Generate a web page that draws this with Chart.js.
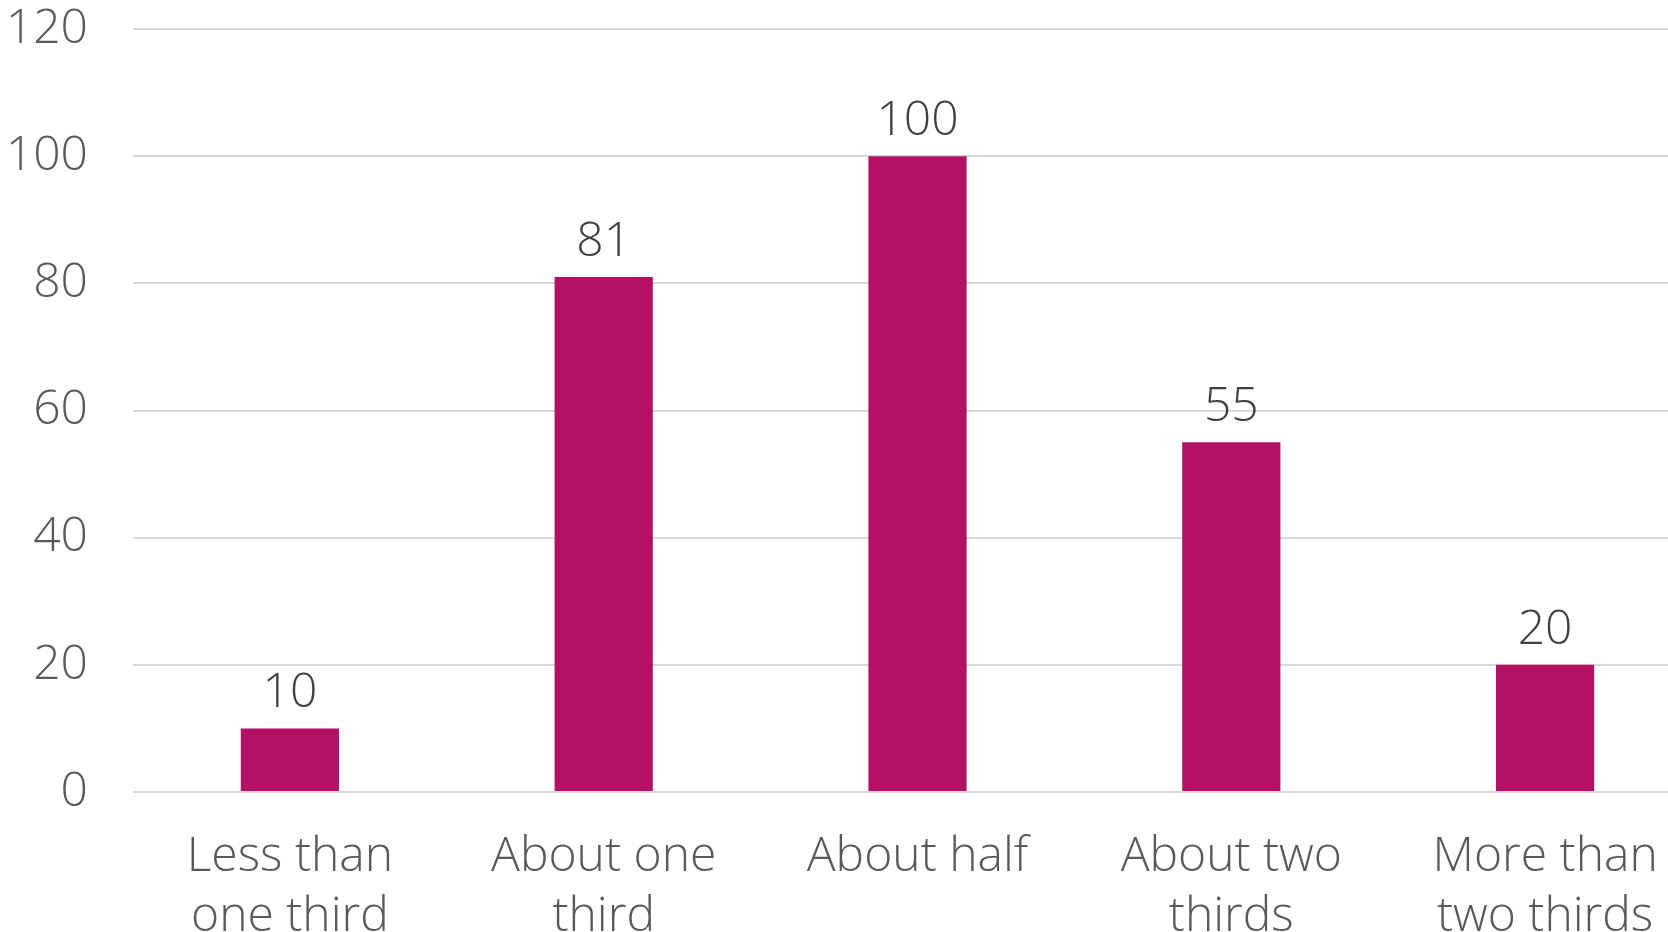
<!DOCTYPE html>
<html>
<head>
<meta charset="utf-8">
<script src="https://cdn.jsdelivr.net/npm/chart.js@4"></script>
<style>
    html, body { margin: 0; padding: 0; background: #ffffff; overflow: hidden; }
    #wrap { width: 1702px; height: 932px; }
</style>
</head>
<body>
<div id="wrap"><canvas id="chart-parte"></canvas></div>
<script>
// Dados do gráfico
const categorias = [
    ['Less than', 'one third'],
    ['About one', 'third'],
    ['About half'],
    ['About two', 'thirds'],
    ['More than', 'two thirds']
];
const valores = [10, 81, 100, 55, 20];
const ticksY = [0, 20, 40, 60, 80, 100, 120];

const fonte = "'Open Sans', 'DejaVu Sans', sans-serif";

// Plugin simples para escrever os valores em cima das barras
const rotulosValores = {
    id: 'rotulosValores',
    afterDatasetsDraw(chart) {
        const ctx = chart.ctx;
        const meta = chart.getDatasetMeta(0);
        ctx.save();
        ctx.font = '300 48px ' + fonte;
        ctx.fillStyle = '#404040';
        ctx.textAlign = 'center';
        ctx.textBaseline = 'alphabetic';
        meta.data.forEach((bar, i) => {
            ctx.fillText(String(valores[i]), bar.x, bar.y - 21);
        });
        ctx.restore();
    }
};

document.addEventListener('DOMContentLoaded', function() {
    const ctx = document.getElementById('chart-parte');
    window.parteChart = new Chart(ctx, {
        type: 'bar',
        data: {
            labels: categorias,
            datasets: [{
                data: valores,
                backgroundColor: '#B31264',
                borderWidth: 0,
                barPercentage: 0.313,
                categoryPercentage: 1.0
            }]
        },
        options: {
            responsive: true,
            maintainAspectRatio: false,
            animation: false,
            layout: { padding: 0 },
            plugins: {
                legend: { display: false },
                tooltip: { enabled: false }
            },
            scales: {
                x: {
                    grid: { display: false, drawTicks: false },
                    border: { display: false },
                    ticks: {
                        color: '#595959',
                        padding: 36,
                        maxRotation: 0,
                        autoSkip: false,
                        font: { family: fonte, size: 48, weight: 300, lineHeight: 1.24 }
                    },
                    afterFit: function(scale) { scale.height = 140; }
                },
                y: {
                    min: 0,
                    max: 120,
                    afterBuildTicks: function(scale) {
                        scale.ticks = ticksY.map(v => ({ value: v }));
                    },
                    grid: { color: '#D9D9D9', lineWidth: 2, drawTicks: false },
                    border: { display: false },
                    ticks: {
                        color: '#595959',
                        padding: 45,
                        font: { family: fonte, size: 48, weight: 300, lineHeight: 1.2 }
                    },
                    afterFit: function(scale) {
                        scale.width = 133;
                        scale.paddingTop = 29;
                        scale.paddingBottom = 0;
                    }
                }
            }
        },
        plugins: [rotulosValores]
    });
});
</script>
</body>
</html>
